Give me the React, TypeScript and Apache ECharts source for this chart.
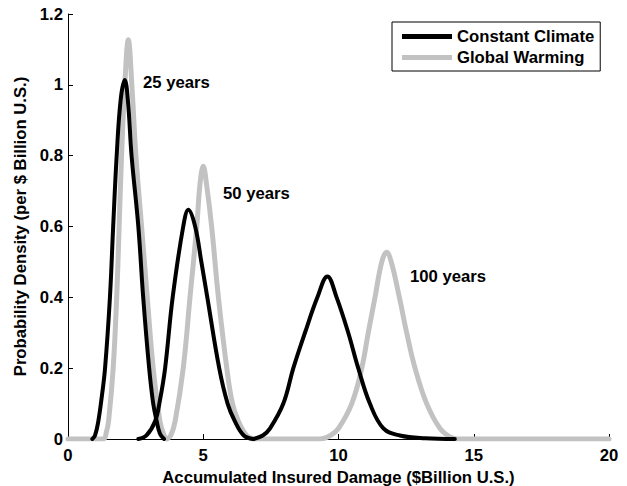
import React, { useEffect, useRef } from "react";
import * as echarts from "echarts";

// Probability density curves, [damage ($B), density]
const constant25: [number, number][] = [
  [0.9, 0], [1.0, 0.01], [1.12, 0.05], [1.25, 0.12], [1.37, 0.2], [1.55, 0.4], [1.67, 0.6], [1.8, 0.8],
  [1.95, 0.96], [2.1, 1.014], [2.22, 0.95], [2.35, 0.8], [2.6, 0.6], [2.78, 0.4], [3.0, 0.2],
  [3.15, 0.1], [3.28, 0.05], [3.4, 0.015], [3.55, 0],
];
const constant50: [number, number][] = [
  [2.6, 0], [2.9, 0.01], [3.22, 0.05], [3.4, 0.11], [3.59, 0.2], [3.87, 0.4], [4.26, 0.6],
  [4.45, 0.647], [4.7, 0.6], [4.93, 0.5], [5.15, 0.4], [5.59, 0.2], [5.9, 0.1], [6.17, 0.05],
  [6.5, 0.01], [6.85, 0],
];
const constant100: [number, number][] = [
  [6.85, 0], [7.2, 0.01], [7.47, 0.03], [7.96, 0.1], [8.33, 0.2], [8.76, 0.3], [9.22, 0.4],
  [9.59, 0.459], [9.93, 0.4], [10.36, 0.3], [10.73, 0.2], [11.16, 0.1], [11.66, 0.03],
  [12.27, 0.01], [13.2, 0.002], [14.3, 0],
];
const warming25: [number, number][] = [
  [0, 0], [1.3, 0], [1.42, 0.02], [1.5, 0.05], [1.67, 0.2], [1.8, 0.4], [1.89, 0.6], [1.98, 0.8],
  [2.1, 1.0], [2.23, 1.127], [2.36, 1.0], [2.51, 0.8], [2.72, 0.6], [2.93, 0.4], [3.15, 0.2],
  [3.4, 0.05], [3.55, 0.01], [3.65, 0],
];
const warming50: [number, number][] = [
  [3.65, 0], [3.8, 0.01], [3.96, 0.05], [4.26, 0.2], [4.51, 0.4], [4.76, 0.6], [4.88, 0.72],
  [5.0, 0.77], [5.12, 0.72], [5.31, 0.6], [5.56, 0.4], [5.87, 0.2], [6.08, 0.1], [6.3, 0.05],
  [6.6, 0.01], [6.85, 0],
];
const warming100: [number, number][] = [
  [6.85, 0], [9.3, 0], [9.7, 0.01], [10.0, 0.03], [10.49, 0.1], [10.86, 0.2], [11.1, 0.3],
  [11.35, 0.4], [11.6, 0.5], [11.78, 0.527], [11.95, 0.5], [12.25, 0.4], [12.52, 0.3],
  [12.83, 0.2], [13.26, 0.1], [13.75, 0.03], [14.1, 0.007], [14.4, 0], [20, 0],
];

// Horizon annotations: [x, y, text]
const horizonLabels: [number, number, string][] = [
  [2.77, 1.008, "25 years"],
  [5.73, 0.692, "50 years"],
  [12.64, 0.46, "100 years"],
];

const seriesNames = ["Constant Climate", "Global Warming"];

const FONT = "'Liberation Sans', Arial, Helvetica, sans-serif";
const BLACK = "#000000";
const GRAY = "#c2c2c2";

export default function App() {
  const ref = useRef<HTMLDivElement>(null);

  useEffect(() => {
    if (!ref.current) return;
    const chart = echarts.init(ref.current, undefined, { renderer: "svg" });

    const curve = (name: string, data: [number, number][], color: string, width: number, z: number) => ({
      type: "line" as const,
      name,
      data,
      showSymbol: false,
      symbol: "none",
      smooth: 0.4,
      lineStyle: { color, width, cap: "round" as const, join: "round" as const },
      itemStyle: { color },
      z,
    });

    const bold = { fontFamily: FONT, fontWeight: "bold" as const, fontSize: 16.7, color: "#000" };

    chart.setOption({
      animation: false,
      textStyle: { fontFamily: FONT },
      grid: { left: 68, right: 18, top: 14, bottom: 47, outerBoundsMode: "none" },
      legend: {
        data: seriesNames,
        orient: "vertical",
        left: 392,
        top: 22,
        icon: "rect",
        itemWidth: 50,
        itemHeight: 5,
        itemGap: 4,
        padding: [6, 6, 5, 10],
        borderColor: "#000",
        borderWidth: 1,
        backgroundColor: "#fff",
        textStyle: bold,
      },
      xAxis: {
        type: "value",
        min: 0,
        max: 20,
        interval: 5,
        name: "Accumulated Insured Damage ($Billion U.S.)",
        nameLocation: "middle",
        nameGap: 28,
        nameTextStyle: bold,
        axisLine: { lineStyle: { color: "#000", width: 1 } },
        axisTick: { inside: true, length: 5, lineStyle: { color: "#000" } },
        axisLabel: { ...bold, margin: 8 },
        splitLine: { show: false },
      },
      yAxis: {
        type: "value",
        min: 0,
        max: 1.2,
        interval: 0.2,
        name: "Probability Density (per $ Billion U.S.)",
        nameLocation: "middle",
        nameGap: 38,
        nameTextStyle: bold,
        axisLine: { show: true, lineStyle: { color: "#000", width: 1 } },
        axisTick: { show: true, inside: true, length: 5, lineStyle: { color: "#000" } },
        axisLabel: {
          ...bold,
          margin: 5,
          formatter: (v: number) => String(Math.round(v * 10) / 10),
        },
        splitLine: { show: false },
      },
      series: [
        curve(seriesNames[1], warming25, GRAY, 5, 2),
        curve(seriesNames[1], warming50, GRAY, 5, 2),
        curve(seriesNames[1], warming100, GRAY, 5, 2),
        curve(seriesNames[0], constant25, BLACK, 4, 3),
        curve(seriesNames[0], constant50, BLACK, 4, 3),
        curve(seriesNames[0], constant100, BLACK, 4, 3),
        {
          type: "scatter",
          name: "horizons",
          symbolSize: 0,
          silent: true,
          z: 4,
          itemStyle: { color: "#000", opacity: 1 },
          data: horizonLabels.map(([x, y, t]) => ({ value: [x, y], name: t })),
          label: {
            show: true,
            position: "right",
            distance: 0,
            opacity: 1,
            textBorderWidth: 0,
            formatter: (p: any) => p.name,
            ...bold,
          },
        },
      ],
    });

    return () => chart.dispose();
  }, []);

  return (
    <div
      ref={ref}
      style={{ position: "absolute", left: 0, top: 0, width: 627, height: 486 }}
    />
  );
}
